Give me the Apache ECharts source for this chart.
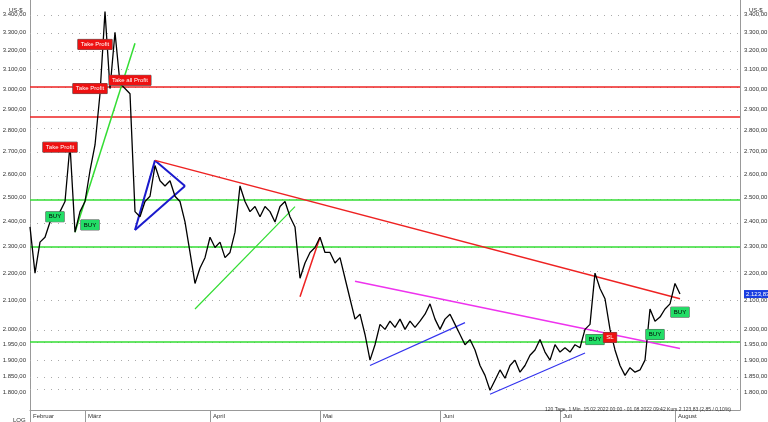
<!DOCTYPE html><html><head><meta charset="utf-8">
<script src="https://cdn.jsdelivr.net/npm/echarts@6/dist/echarts.min.js"></script>
<style>html,body{margin:0;padding:0;background:#fff}#c{width:768px;height:422px}</style></head><body><div id="c"></div>
<script>
const prices=[2378,2200,2318,2337,2398,2410,2440,2482,2730,2357,2440,2482,2614,2730,2976,3418,3002,3301,3028,3002,2976,2440,2419,2482,2504,2637,2570,2548,2570,2504,2482,2398,2278,2162,2219,2258,2337,2297,2318,2258,2278,2357,2548,2482,2440,2461,2419,2461,2440,2398,2461,2482,2419,2378,2181,2238,2278,2297,2337,2278,2278,2238,2258,2181,2107,2036,2053,1984,1900,1950,2018,2001,2029,2008,2036,2001,2029,2008,2029,2053,2089,2036,2001,2036,2053,2018,1984,1950,1967,1933,1883,1852,1806,1837,1869,1843,1883,1900,1862,1883,1916,1933,1967,1926,1900,1950,1926,1940,1926,1950,1940,2001,2018,2200,2144,2107,2001,1933,1883,1852,1876,1862,1869,1900,2071,2029,2043,2071,2089,2162,2123.83];
const nCats=143;
const categories=Array.from({length:nCats},(_,i)=>String(i));
const monthIdx=[0,11,36,58,82,106,129];
const monthNames=['Februar','März','April','Mai','Juni','Juli','August'];
const yTicks=[1800,1850,1900,1950,2000,2100,2200,2300,2400,2500,2600,2700,2800,2900,3000,3100,3200,3300,3400];
const lastPrice=2123.83;
const trendLines=[
 [9,2357,20.6,3240,'#33dd33',1.5],
 [25,2660,31,2548,'#1a1acc',2],[31,2548,21,2366,'#1a1acc',2],[21,2366,25,2660,'#1a1acc',2],
 [25,2660,130,2107,'#ee2222',1.5],
 [33,2071,53,2461,'#33dd33',1.2],
 [53.6,2114,58,2337,'#ee2222',1.5],
 [65,2170,130,1938,'#ee33ee',1.5],
 [68,1883,87,2024,'#3333ee',1.2],
 [92,1794,111,1923,'#3333ee',1.2]
];
const hLines=[[3015,'#ee2222'],[2850,'#ee2222'],[2500,'#33dd33'],[2300,'#33dd33'],[1950,'#33dd33']];
const tags=[['Take Profit',13,3234,'#ee1111'],['Take Profit',6,2720,'#ee1111'],['Take Profit',12.4,3002,'#ee1111'],['Take all Profit',20.4,3044,'#ee1111'],
 ['BUY',5.4,2419,'#22dd66'],['BUY',11.6,2386,'#22dd66'],['BUY',112.6,1967,'#22dd66'],['BUY',125.4,1984,'#22dd66'],['BUY',130,2060,'#22dd66'],['SL',116.2,1974,'#ee1111']];
const L=Math.log;
const fmt=v=>{const s=v.toFixed(2).split('.');return s[0].replace(/\B(?=(\d{3})+(?!\d))/g,'.')+','+s[1];};
const ch=echarts.init(document.getElementById('c'));
const yAx=(pos)=>({type:'value',position:pos,min:L(1747),max:L(3485),
 axisLine:{show:true,lineStyle:{color:'#999'}},axisTick:{show:false},splitLine:{show:false},
 axisLabel:{customValues:(pos==='right'?yTicks.concat([lastPrice]):yTicks).map(L),fontSize:6,color:'#333',fontFamily:'Liberation Sans',margin:4,
  formatter:v=>{const r=Math.exp(v);return Math.abs(r-lastPrice)<0.5?'{hl|'+fmt(r)+'}':fmt(Math.round(r));},
  rich:{hl:{backgroundColor:'#1a3ee0',color:'#fff',fontSize:6,padding:[1,2]}}}});
const md=[];
yTicks.forEach(t=>md.push({yAxis:L(t),lineStyle:{color:'#aaa',type:[1,6],width:1}}));
hLines.forEach(h=>md.push({yAxis:L(h[0]),lineStyle:{color:h[1],type:'solid',width:1.5}}));
trendLines.forEach(t=>md.push([{coord:[t[0],L(t[1])],lineStyle:{color:t[4],width:t[5],type:'solid'}},{coord:[t[2],L(t[3])]}]));
ch.setOption({animation:false,
 grid:{left:30,right:28,top:0,bottom:12,containLabel:false,outerBoundsMode:'none'},
 xAxis:{type:'category',data:categories,boundaryGap:false,
  axisLine:{show:true,lineStyle:{color:'#999'}},
  axisTick:{show:true,customValues:monthIdx,length:12,inside:false,lineStyle:{color:'#999'}},
  axisLabel:{customValues:monthIdx,formatter:(v)=>monthNames[monthIdx.indexOf(+v)],fontSize:6,color:'#333',align:'left',margin:3,padding:[0,0,0,3],fontFamily:'Liberation Sans'},
  splitLine:{show:false}},
 yAxis:[yAx('left'),yAx('right')],
 title:[{text:'US-$',left:4,top:2,textStyle:{fontSize:6,fontWeight:'normal',color:'#333'}},
  {text:'US-$',left:744,top:2,textStyle:{fontSize:6,fontWeight:'normal',color:'#333'}},
  {text:'LOG',left:8,top:412,textStyle:{fontSize:6,fontWeight:'normal',color:'#333'}},
  {text:'120 Tage, 1 Min. 15.02.2022 00:00 - 01.08.2022 09:42 Kurs 2.123,83 (2,85 / 0,10%)',right:32,top:402,textStyle:{fontSize:5,fontWeight:'normal',color:'#333',fontFamily:'Liberation Sans'}}],
 series:[{type:'line',data:prices.map(L),symbol:'none',lineStyle:{color:'#000',width:1.3},z:3,
  markLine:{silent:true,symbol:'none',label:{show:false},data:md,z:2},
  markPoint:{symbol:'rect',symbolSize:1,data:tags.map(t=>({coord:[t[1],L(t[2])],
   label:{show:true,formatter:t[0],position:'inside',backgroundColor:t[3],color:t[3]==='#ee1111'?'#fff':'#000',fontSize:6,padding:[2,3],borderColor:'#555',borderWidth:0.5,fontFamily:'Liberation Sans'},itemStyle:{color:'transparent'}})),z:5}
 }]});
</script></body></html>
